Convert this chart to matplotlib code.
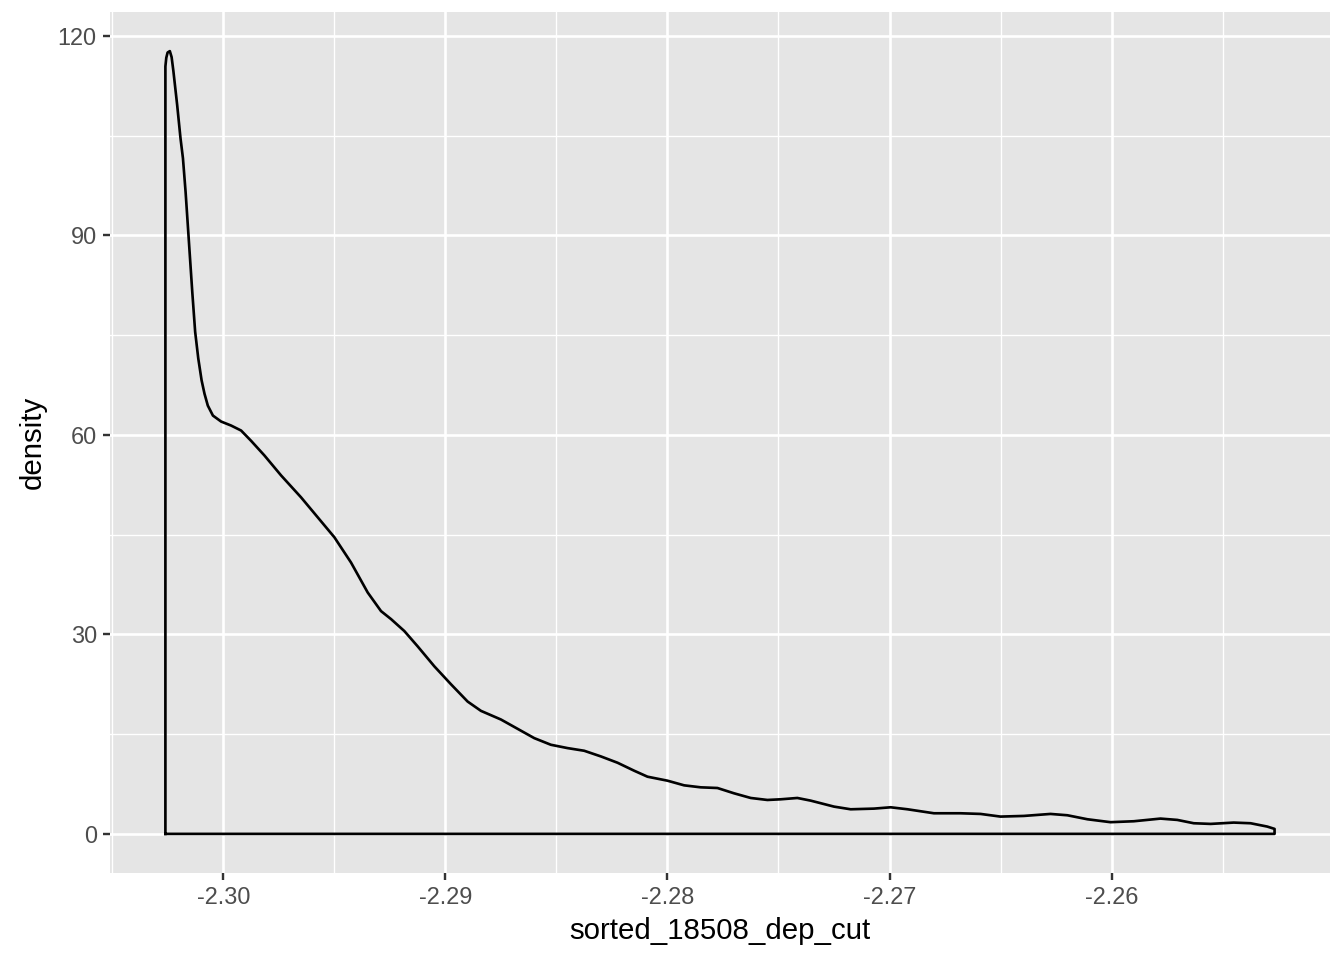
import matplotlib
matplotlib.use("Agg")
import matplotlib.pyplot as plt
from matplotlib.ticker import FixedLocator, FormatStrFormatter

plt.rcParams['font.family'] = ['Liberation Sans', 'DejaVu Sans']
plt.rcParams['axes.unicode_minus'] = False

# density curve
dep_cut = [-2.30261, -2.30257, -2.30251, -2.30241, -2.30233, -2.30225, -2.30208,
           -2.30193, -2.30182, -2.30170, -2.30154, -2.30140, -2.30127, -2.30113,
           -2.30098, -2.30085, -2.30070, -2.30047, -2.30010, -2.29965, -2.29920,
           -2.29875, -2.29815, -2.29740, -2.29650, -2.29575, -2.29500, -2.29425,
           -2.29350, -2.29290, -2.29245, -2.29185, -2.29125, -2.29050, -2.28975,
           -2.28900, -2.28840, -2.28750, -2.28675, -2.28600, -2.28525, -2.28450,
           -2.28375, -2.28300, -2.28225, -2.28150, -2.28090, -2.28000, -2.27925,
           -2.27850, -2.27775, -2.27700, -2.27625, -2.27550, -2.27490, -2.27415,
           -2.27355, -2.27250, -2.27175, -2.27070, -2.26995, -2.26919, -2.26800,
           -2.26680, -2.26590, -2.26500, -2.26395, -2.26275, -2.26199, -2.26109,
           -2.26005, -2.25900, -2.25780, -2.25704, -2.25630, -2.25554, -2.25450,
           -2.25374, -2.25299, -2.25266]
density = [115.4, 116.7, 117.5, 117.7, 116.8, 114.7, 109.6,
           104.6, 101.6, 96.5, 88.5, 81.5, 75.5, 71.5,
           68.2, 66.2, 64.4, 62.9, 62.0, 61.4, 60.65,
           59.1, 56.9, 53.9, 50.6, 47.6, 44.6, 40.8,
           36.3, 33.5, 32.3, 30.5, 28.2, 25.2, 22.5,
           19.9, 18.5, 17.2, 15.8, 14.4, 13.4, 12.9,
           12.5, 11.65, 10.7, 9.5, 8.6, 8.0, 7.3,
           7.0, 6.9, 6.1, 5.4, 5.1, 5.2, 5.4,
           5.0, 4.1, 3.7, 3.8, 4.0, 3.7, 3.1,
           3.1, 3.0, 2.6, 2.7, 3.0, 2.8, 2.2,
           1.76, 1.9, 2.3, 2.1, 1.6, 1.5, 1.7,
           1.6, 1.1, 0.75]

x_ticks = [-2.30, -2.29, -2.28, -2.27, -2.26]
x_minor = [-2.305, -2.295, -2.285, -2.275, -2.265, -2.255]
y_ticks = [0, 30, 60, 90, 120]
y_minor = [15, 45, 75, 105]

fig = plt.figure(figsize=(7, 5), dpi=192)
ax = fig.add_axes([0.0818, 0.0906, 0.9078, 0.8969])
ax.set_facecolor('#E5E5E5')
for s in ax.spines.values():
    s.set_visible(False)

# ggplot style expansion (5%)
xr = dep_cut[-1] - dep_cut[0]
ax.set_xlim(dep_cut[0] - 0.05 * xr, dep_cut[-1] + 0.05 * xr)
ymax = max(density)
ax.set_ylim(-0.05 * ymax, ymax * 1.05)

ax.xaxis.set_major_locator(FixedLocator(x_ticks))
ax.xaxis.set_minor_locator(FixedLocator(x_minor))
ax.yaxis.set_major_locator(FixedLocator(y_ticks))
ax.yaxis.set_minor_locator(FixedLocator(y_minor))
ax.xaxis.set_major_formatter(FormatStrFormatter('%.2f'))

ax.grid(which='major', color='white', linewidth=1.0)
ax.grid(which='minor', color='white', linewidth=0.5)
ax.set_axisbelow(True)

ax.tick_params(which='major', length=2.75, width=0.9, color='#333333',
               labelcolor='#4D4D4D', labelsize=8.8, pad=2.2)
ax.tick_params(which='minor', length=0)

# closed outline like geom_density
px = [dep_cut[0]] + dep_cut + [dep_cut[-1], dep_cut[0]]
py = [0] + density + [0, 0]
ax.plot(px, py, color='black', linewidth=1.0, solid_joinstyle='round')

ax.set_xlabel('sorted_18508_dep_cut', fontsize=11, color='black', labelpad=3)
ax.set_ylabel('density', fontsize=11, color='black', labelpad=4)

fig.savefig('out.png', dpi=192)
